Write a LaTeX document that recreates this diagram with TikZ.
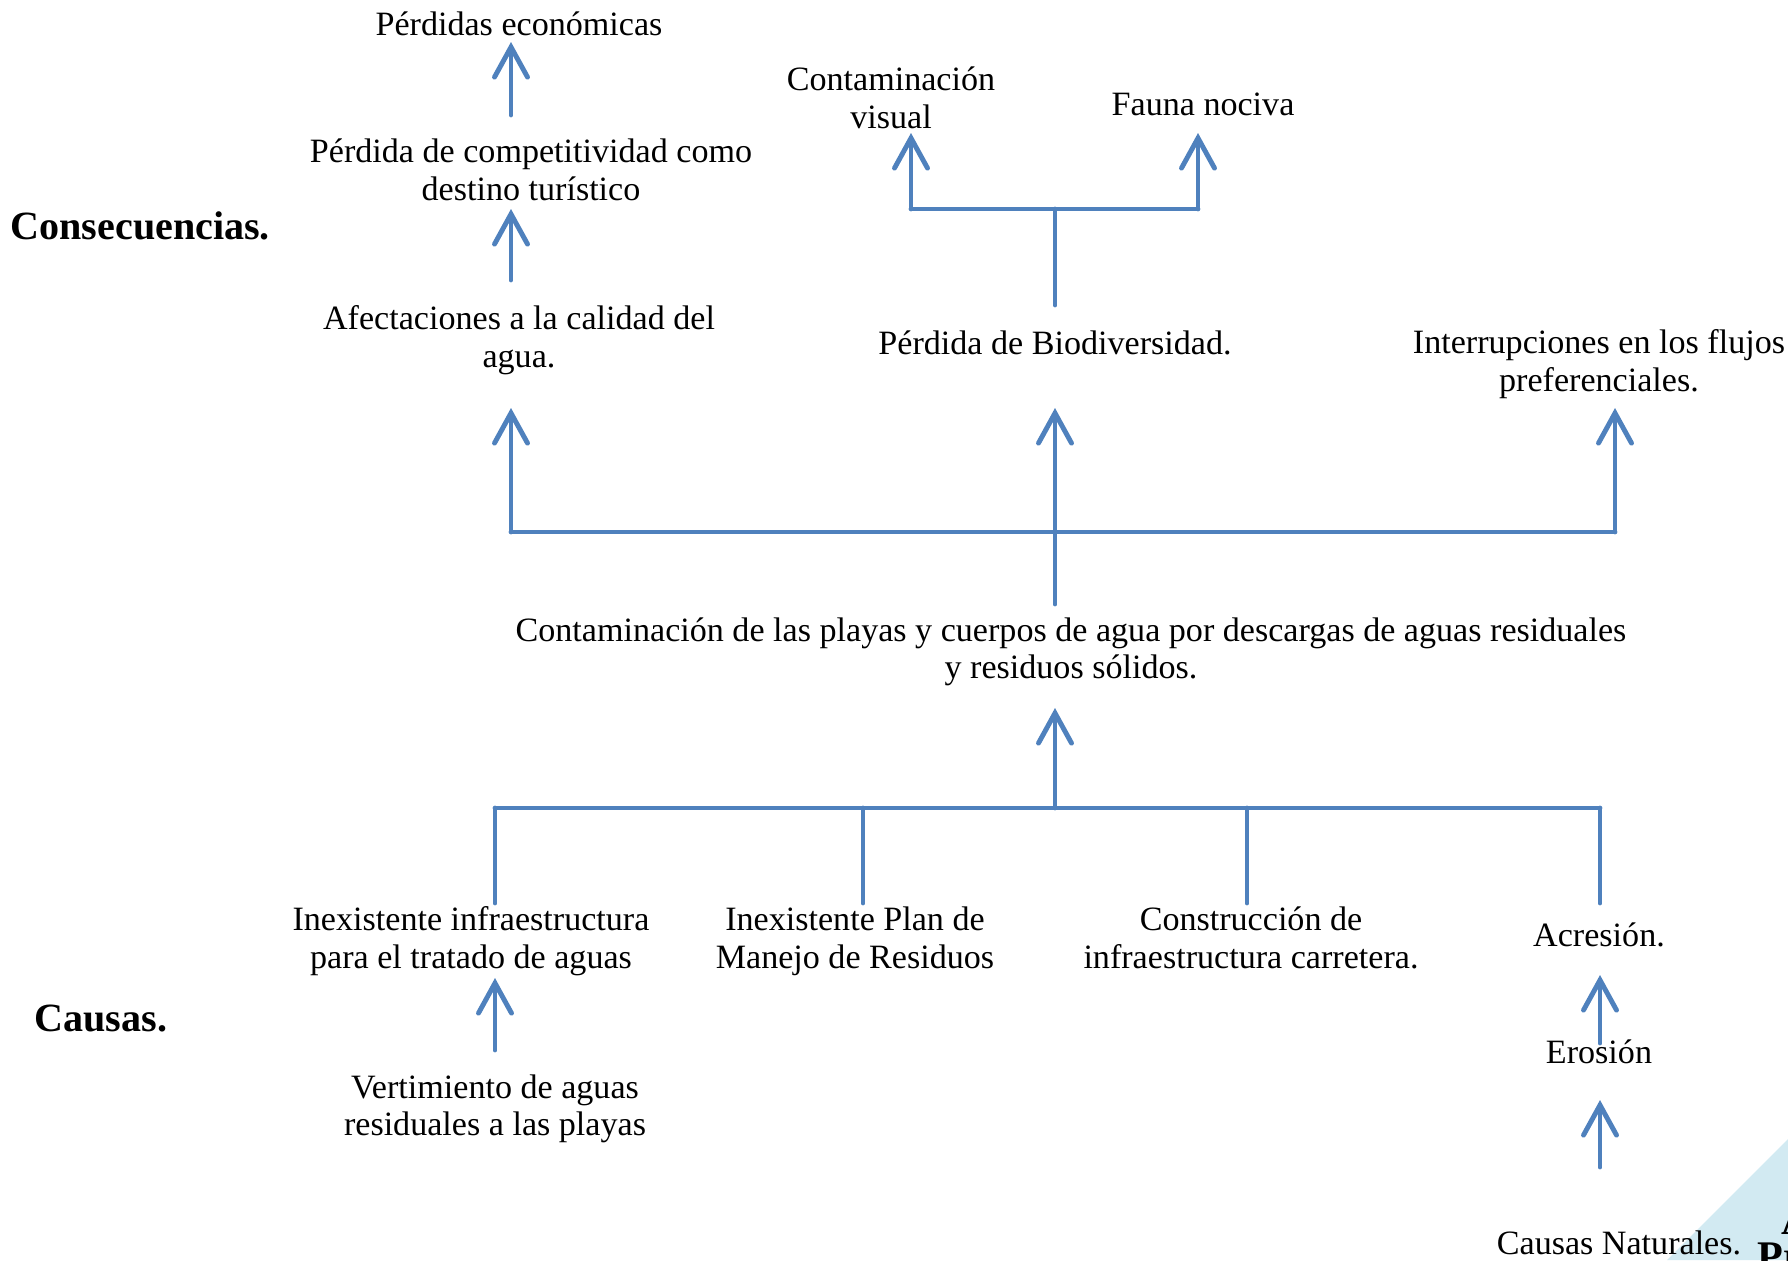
\documentclass[tikz,border=0pt]{standalone}
\usepackage{fontspec}
\setmainfont{Liberation Serif}
\usetikzlibrary{arrows.meta}
\definecolor{linkblue}{HTML}{4F81BD}
\definecolor{cornerblue}{HTML}{D2EAF2}
\begin{document}
\begin{tikzpicture}[x=0.1mm,y=-0.1mm,
  txt/.style={align=center,inner sep=0pt,font=\fontsize{9.7}{10.7}\selectfont},
  head/.style={anchor=west,inner sep=0pt,font=\fontsize{11.4}{12}\selectfont\bfseries},
  link/.style={draw=linkblue,line width=1.4pt,line cap=round},
  arr/.style={link,-{Straight Barb[length=3mm,width=3.3mm,line cap=round]}}]

  \useasboundingbox (0,0) rectangle (1788,1260);

  % corner of the next page
  \fill[cornerblue] (1667,1260)--(1788,1139)--(1788,1260)--cycle;
  \begin{scope}
    \clip (0,0) rectangle (1788,1260);
    \node[anchor=north west,inner sep=0pt,font=\fontsize{12}{12}\selectfont\bfseries] (pa) at (1781,1206) {A};
    \node[anchor=north west,inner sep=0pt,font=\fontsize{12}{12}\selectfont\bfseries] (pb) at (1757,1242) {Pr};
  \end{scope}

  % titles
  \node[head] (conseq) at (10,226) {Consecuencias.};
  \node[head] (causas) at (34,1019) {Causas.};

  % consecuencias
  \begin{scope}
    \clip (0,0) rectangle (1788,36);
    \node[txt,anchor=base] (econ) at (519,35) {Pérdidas económicas};
  \end{scope}
  \node[txt] (compet) at (531,170) {Pérdida de competitividad como\\destino turístico};
  \node[txt] (afect) at (519,340) {Afectaciones a la calidad del\\agua.};
  \node[txt] (visual) at (891,98) {Contaminación\\visual};
  \node[txt] (fauna) at (1203,104) {Fauna nociva};
  \node[txt] (biodiv) at (1055,343) {Pérdida de Biodiversidad.};
  \node[txt] (flujos) at (1599,364) {Interrupciones en los flujos\\preferenciales.};

  % problema
  \node[txt] (contam) at (1071,652) {Contaminación de las playas y cuerpos de agua por descargas de aguas residuales\\y residuos sólidos.};

  % causas
  \node[txt] (infra) at (471,941) {Inexistente infraestructura\\para el tratado de aguas};
  \node[txt] (plan) at (855,941) {Inexistente Plan de\\Manejo de Residuos};
  \node[txt] (carret) at (1251,938) {Construcción de\\infraestructura carretera.};
  \node[txt] (acres) at (1599,935) {Acresión.};
  \node[txt] (erosion) at (1599,1052) {Erosión};
  \node[txt] (vert) at (495,1109) {Vertimiento de aguas\\residuales a las playas};
  \node[txt] (natur) at (1619,1243) {Causas Naturales.};

  % junctions and tips
  \coordinate (econtip) at (511,42);
  \coordinate (competbase) at (511,115);
  \coordinate (compettip) at (511,209);
  \coordinate (afectbase) at (511,280);
  \coordinate (visualtip) at (911,133);
  \coordinate (faunatip) at (1198,133);
  \coordinate (visualj) at (911,209);
  \coordinate (faunaj) at (1198,209);
  \coordinate (biodivj) at (1055,209);
  \coordinate (biodivbase) at (1055,305);
  \coordinate (afecttip) at (511,408);
  \coordinate (biodivtip) at (1055,408);
  \coordinate (flujostip) at (1615,408);
  \coordinate (afectj) at (511,532);
  \coordinate (contamj) at (1055,532);
  \coordinate (flujosj) at (1615,532);
  \coordinate (contambase) at (1055,604);
  \coordinate (contamtip) at (1055,708);
  \coordinate (causej) at (1055,808);
  \coordinate (infraj) at (495,808);
  \coordinate (planj) at (863,808);
  \coordinate (carretj) at (1247,808);
  \coordinate (acresj) at (1600,808);
  \coordinate (infrabase) at (495,903);
  \coordinate (planbase) at (863,903);
  \coordinate (carretbase) at (1247,903);
  \coordinate (acresbase) at (1600,903);
  \coordinate (infratip) at (495,978);
  \coordinate (vertbase) at (495,1050);
  \coordinate (acrestip) at (1600,975);
  \coordinate (erosionbase) at (1600,1043);
  \coordinate (erosiontip) at (1600,1100);
  \coordinate (naturbase) at (1600,1167);

  % arrows up
  \draw[arr] (competbase)--(econtip);
  \draw[arr] (afectbase)--(compettip);
  \draw[link] (visualj)--(faunaj);
  \draw[arr] (visualj)--(visualtip);
  \draw[arr] (faunaj)--(faunatip);
  \draw[link] (biodivbase)--(biodivj);
  \draw[link] (afectj)--(flujosj);
  \draw[arr] (afectj)--(afecttip);
  \draw[arr] (contamj)--(biodivtip);
  \draw[arr] (flujosj)--(flujostip);
  \draw[link] (contambase)--(contamj);
  \draw[arr] (causej)--(contamtip);
  \draw[link] (infraj)--(acresj);
  \draw[link] (infrabase)--(infraj);
  \draw[link] (planbase)--(planj);
  \draw[link] (carretbase)--(carretj);
  \draw[link] (acresbase)--(acresj);
  \draw[arr] (vertbase)--(infratip);
  \draw[arr] (erosionbase)--(acrestip);
  \draw[arr] (naturbase)--(erosiontip);
\end{tikzpicture}
\end{document}
